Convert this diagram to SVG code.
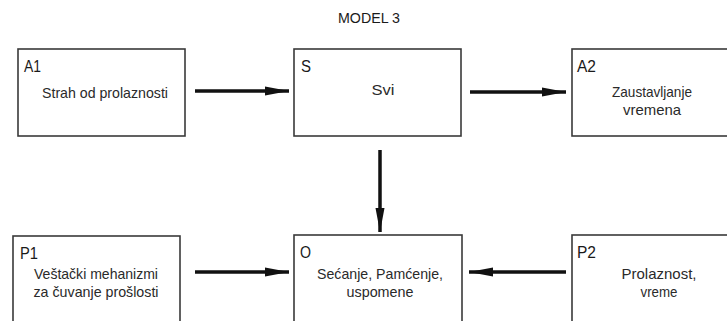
<svg xmlns="http://www.w3.org/2000/svg" width="727" height="321" viewBox="0 0 727 321">
  <style>
    .box { fill: #ffffff; stroke: #3a3a3a; stroke-width: 1.6; }
    .tag { font-family: "Liberation Sans", Arial, sans-serif; font-size: 16px; fill: #1a1a1a; }
    .txt { font-family: "Liberation Sans", Arial, sans-serif; font-size: 15px; fill: #2a2a2a; text-anchor: middle; }
    .title { font-family: "Liberation Sans", Arial, sans-serif; font-size: 15px; fill: #1a1a1a; text-anchor: middle; }
    .link { fill: none; stroke: #111111; stroke-width: 3.5; }
  </style>
  <defs>
    <marker id="head" markerUnits="userSpaceOnUse" markerWidth="26" markerHeight="12" refX="24" refY="6" orient="auto">
      <path d="M0,1.5 L24,6 L0,10.5 Z" fill="#111111"/>
    </marker>
  </defs>

  <rect width="727" height="321" fill="#ffffff"/>

  <text class="title" x="369" y="23" textLength="62" lengthAdjust="spacingAndGlyphs">MODEL 3</text>

  <g id="A1">
    <rect class="box" x="18" y="49" width="167" height="87"/>
    <text class="tag" x="24" y="72" textLength="17" lengthAdjust="spacingAndGlyphs">A1</text>
    <text class="txt" x="105" y="98" textLength="126" lengthAdjust="spacingAndGlyphs">Strah od prolaznosti</text>
  </g>

  <g id="S">
    <rect class="box" x="294" y="49" width="167" height="87"/>
    <text class="tag" x="301" y="72" textLength="10" lengthAdjust="spacingAndGlyphs">S</text>
    <text class="txt" x="383" y="95" textLength="23" lengthAdjust="spacingAndGlyphs">Svi</text>
  </g>

  <g id="A2">
    <rect class="box" x="572" y="49" width="170" height="87"/>
    <text class="tag" x="577" y="72" textLength="19" lengthAdjust="spacingAndGlyphs">A2</text>
    <text class="txt" x="652" y="97" textLength="80" lengthAdjust="spacingAndGlyphs">Zaustavljanje</text>
    <text class="txt" x="652" y="115" textLength="58" lengthAdjust="spacingAndGlyphs">vremena</text>
  </g>

  <g id="P1">
    <rect class="box" x="13" y="236" width="167" height="100"/>
    <text class="tag" x="20" y="259" textLength="18" lengthAdjust="spacingAndGlyphs">P1</text>
    <text class="txt" x="96" y="279" textLength="124" lengthAdjust="spacingAndGlyphs">Veštački mehanizmi</text>
    <text class="txt" x="96" y="297" textLength="125" lengthAdjust="spacingAndGlyphs">za čuvanje prošlosti</text>
  </g>

  <g id="O">
    <rect class="box" x="294" y="235" width="168" height="100"/>
    <text class="tag" x="300" y="258" textLength="11" lengthAdjust="spacingAndGlyphs">O</text>
    <text class="txt" x="380" y="279" textLength="126" lengthAdjust="spacingAndGlyphs">Sećanje, Pamćenje,</text>
    <text class="txt" x="380" y="297" textLength="67" lengthAdjust="spacingAndGlyphs">uspomene</text>
  </g>

  <g id="P2">
    <rect class="box" x="572" y="235" width="170" height="100"/>
    <text class="tag" x="577" y="258" textLength="19" lengthAdjust="spacingAndGlyphs">P2</text>
    <text class="txt" x="659" y="279" textLength="75" lengthAdjust="spacingAndGlyphs">Prolaznost,</text>
    <text class="txt" x="659" y="297" textLength="37" lengthAdjust="spacingAndGlyphs">vreme</text>
  </g>

  <g id="connectors">
    <line class="link" x1="195" y1="91" x2="289" y2="91" marker-end="url(#head)"/>
    <line class="link" x1="470" y1="92" x2="566" y2="92" marker-end="url(#head)"/>
    <line class="link" x1="380" y1="150" x2="380" y2="232" marker-end="url(#head)"/>
    <line class="link" x1="195" y1="272" x2="289" y2="272" marker-end="url(#head)"/>
    <line class="link" x1="566" y1="272" x2="469" y2="272" marker-end="url(#head)"/>
  </g>
</svg>
